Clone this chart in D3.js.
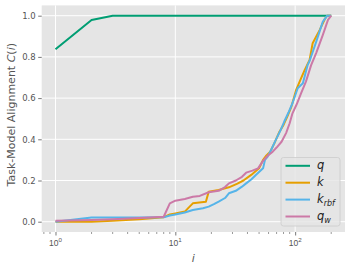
<!DOCTYPE html>
<html>
<head>
<meta charset="utf-8">
<script src="https://cdn.jsdelivr.net/npm/d3@7"></script>
<style>
  body { margin: 0; background: #fff; }
  svg { display: block; font-family: "DejaVu Sans", sans-serif; }
</style>
</head>
<body>
<svg id="chart" width="352" height="268"></svg>
<script>
// values
const qIdx = [1, 2, 3, 200];
const qVal = [0.837, 0.979, 1, 1];

const kIdx = [1, 2, 3, 5, 8, 9, 10, 12, 14, 18, 19, 23, 28, 33, 37, 43, 50, 54, 57, 62, 67, 74, 80, 86, 93, 102, 112, 120, 132, 140, 160, 177, 185, 200];
const kVal = [0, 0, 0.005, 0.012, 0.022, 0.035, 0.04, 0.049, 0.089, 0.097, 0.146, 0.154, 0.167, 0.185, 0.2, 0.227, 0.259, 0.3, 0.319, 0.34, 0.38, 0.437, 0.47, 0.51, 0.558, 0.64, 0.696, 0.736, 0.785, 0.866, 0.93, 0.984, 1, 1];

const krbfIdx = [1, 2, 3, 5, 8, 9, 10, 12, 14, 17, 19, 21, 23, 26, 28, 32, 36, 39, 43, 47, 54, 56, 59, 63, 69, 75, 81, 88, 95, 105, 116, 127, 132, 150, 170, 185, 200];
const krbfVal = [0, 0.02, 0.02, 0.02, 0.021, 0.03, 0.035, 0.045, 0.057, 0.065, 0.073, 0.085, 0.097, 0.115, 0.138, 0.15, 0.17, 0.186, 0.205, 0.227, 0.259, 0.3, 0.316, 0.348, 0.397, 0.44, 0.485, 0.53, 0.575, 0.648, 0.672, 0.76, 0.78, 0.874, 0.97, 1, 1];

const qwIdx = [1, 2, 3, 5, 8, 9, 10, 12, 14, 16, 19, 23, 26, 28, 32, 36, 39, 44, 49, 54, 59, 65, 70, 77, 84, 90, 95, 103, 112, 123, 136, 150, 170, 188, 200];
const qwVal = [0.005, 0.008, 0.012, 0.018, 0.024, 0.089, 0.102, 0.11, 0.121, 0.125, 0.143, 0.15, 0.168, 0.186, 0.2, 0.218, 0.238, 0.248, 0.259, 0.295, 0.32, 0.34, 0.36, 0.388, 0.43, 0.478, 0.526, 0.57, 0.623, 0.68, 0.76, 0.82, 0.906, 0.98, 1];

const yTicks = [0, 0.2, 0.4, 0.6, 0.8, 1.0];
const xTicks = [1, 10, 100];

const series = [
  { name: "q", sub: null, color: "#009E73", idx: qIdx, val: qVal },
  { name: "k", sub: null, color: "#E69F00", idx: kIdx, val: kVal },
  { name: "k", sub: "rbf", color: "#56B4E9", idx: krbfIdx, val: krbfVal },
  { name: "q", sub: "w", color: "#CC79A7", idx: qwIdx, val: qwVal }
];

const plotL = 41.7, plotR = 345, plotT = 5.4, plotB = 232;
const tickColor = "#555";

const svg = d3.select("#chart");

// matplotlib style 5% margins, log axis on x
const lx0 = Math.log10(1), lx1 = Math.log10(200);
const xm = (lx1 - lx0) * 0.05;
const x = d3.scaleLog()
  .domain([Math.pow(10, lx0 - xm), Math.pow(10, lx1 + xm)])
  .range([plotL, plotR]);
const y = d3.scaleLinear()
  .domain([-0.05, 1.05])
  .range([plotB, plotT]);

// background
svg.append("rect")
  .attr("x", plotL).attr("y", plotT)
  .attr("width", plotR - plotL).attr("height", plotB - plotT)
  .attr("fill", "#E5E5E5");

// grid
const grid = svg.append("g").attr("stroke", "#fff").attr("stroke-width", 1);
grid.selectAll(".gx").data(xTicks).enter().append("line")
  .attr("x1", d => x(d)).attr("x2", d => x(d))
  .attr("y1", plotT).attr("y2", plotB);
grid.selectAll(".gy").data(yTicks).enter().append("line")
  .attr("y1", d => y(d)).attr("y2", d => y(d))
  .attr("x1", plotL).attr("x2", plotR);

// x axis
const minor = [];
const [d0, d1] = x.domain();
for (let e = -1; e <= 2; e++) {
  for (let m = 2; m <= 9; m++) {
    const v = m * Math.pow(10, e);
    if (v >= d0 && v <= d1) minor.push(v);
  }
}
const xAxis = svg.append("g").attr("transform", `translate(0,${plotB})`);
xAxis.call(d3.axisBottom(x).tickValues(xTicks).tickSize(3.5).tickPadding(2).tickFormat(""));
xAxis.select(".domain").remove();
xAxis.selectAll(".tick line").attr("stroke", tickColor).attr("stroke-width", 0.8);
xAxis.selectAll(".mtick").data(minor).enter().append("line")
  .attr("x1", d => x(d)).attr("x2", d => x(d))
  .attr("y1", 0).attr("y2", 2)
  .attr("stroke", tickColor).attr("stroke-width", 0.6);
const xl = xAxis.selectAll(".xlab").data(xTicks).enter().append("text")
  .attr("x", d => x(d)).attr("y", 14)
  .attr("text-anchor", "middle")
  .attr("fill", tickColor).attr("font-size", 8.5);
xl.append("tspan").text("10");
xl.append("tspan").attr("dy", -3.6).attr("font-size", 6.2).text(d => Math.round(Math.log10(d)));

// y axis
const yAxis = svg.append("g").attr("transform", `translate(${plotL},0)`);
yAxis.call(d3.axisLeft(y).tickValues(yTicks).tickSize(3.5).tickPadding(2.5).tickFormat(d3.format(".1f")));
yAxis.select(".domain").remove();
yAxis.selectAll(".tick line").attr("stroke", tickColor).attr("stroke-width", 0.8);
yAxis.selectAll(".tick text").attr("fill", tickColor).attr("font-size", 8.5)
  .attr("font-family", "DejaVu Sans");

// axis labels
svg.append("text")
  .attr("x", (plotL + plotR) / 2).attr("y", 262)
  .attr("text-anchor", "middle").attr("fill", tickColor)
  .attr("font-size", 11).attr("font-style", "italic")
  .text("i");

const yl = svg.append("text")
  .attr("transform", `translate(15,${(plotT + plotB) / 2 - 4}) rotate(-90)`)
  .attr("text-anchor", "middle").attr("fill", tickColor)
  .attr("font-size", 11);
yl.append("tspan").text("Task-Model Alignment ");
yl.append("tspan").attr("font-style", "italic").text("C");
yl.append("tspan").text("(");
yl.append("tspan").attr("font-style", "italic").text("i");
yl.append("tspan").text(")");

// lines
const line = d3.line()
  .x(d => x(d[0]))
  .y(d => y(d[1]));
svg.append("g").selectAll("path").data(series).enter().append("path")
  .attr("d", s => line(s.idx.map((v, j) => [v, s.val[j]])))
  .attr("fill", "none")
  .attr("stroke", s => s.color)
  .attr("stroke-width", 2)
  .attr("stroke-linejoin", "round");

// legend
const lg = svg.append("g").attr("transform", "translate(281,157.5)");
lg.append("rect")
  .attr("width", 59).attr("height", 68.5)
  .attr("rx", 2.5)
  .attr("fill", "#E5E5E5").attr("fill-opacity", 0.8)
  .attr("stroke", "#ccc").attr("stroke-width", 0.8);
const items = lg.selectAll(".item").data(series).enter().append("g")
  .attr("transform", (d, j) => `translate(0,${8.3 + j * 16.9})`);
items.append("line")
  .attr("x1", 4.5).attr("x2", 29)
  .attr("stroke", d => d.color).attr("stroke-width", 2);
const lt = items.append("text")
  .attr("x", 36).attr("y", 3.5)
  .attr("fill", "#222").attr("font-size", 11.5).attr("font-style", "italic");
lt.append("tspan").text(d => d.name);
lt.filter(d => d.sub).append("tspan")
  .attr("dy", 2.5).attr("font-size", 8).text(d => d.sub);
</script>
</body>
</html>
